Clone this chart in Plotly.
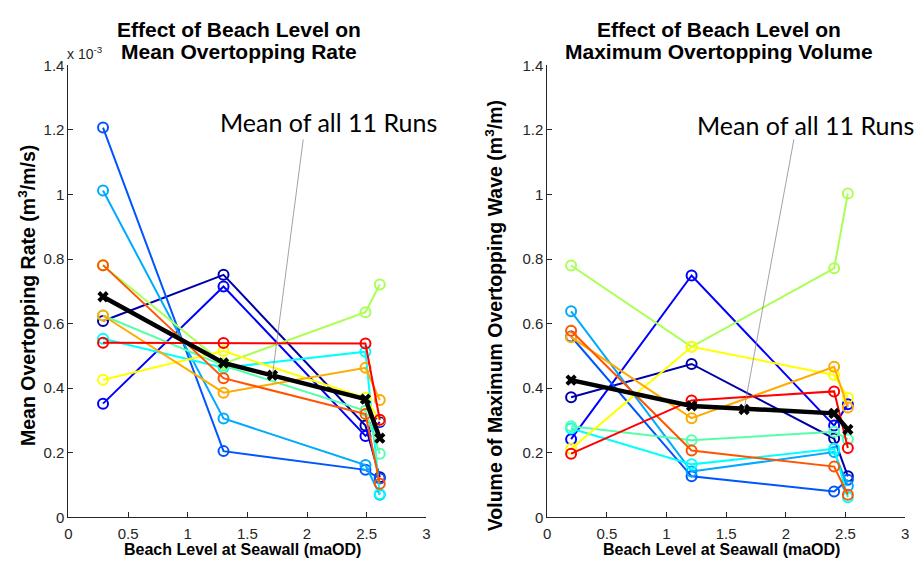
import plotly.graph_objects as go

# ---------------- data ----------------
run_names = ["Run 1", "Run 2", "Run 3", "Run 4", "Run 5", "Run 6",
             "Run 7", "Run 8", "Run 9", "Run 10", "Run 11"]
run_colors = ["#0000aa", "#0000ff", "#0055ff", "#00aaff", "#00ffff", "#55ffaa",
              "#aaff55", "#ffff00", "#ffaa00", "#ff5500", "#ff0000"]

# Left panel: beach level (maOD) and mean overtopping rate (x 1e-3 m3/m/s)
x_rate = [0.29, 1.30, 2.49, 2.61]
rate_runs = [
    [0.608, 0.751, 0.284, 0.124],
    [0.352, 0.715, 0.252, 0.295],
    [1.207, 0.205, 0.147, 0.120],
    [1.012, 0.306, 0.162, 0.070],
    [0.553, 0.463, 0.513, 0.072],
    [0.625, 0.470, 0.330, 0.197],
    [0.780, 0.476, 0.635, 0.721],
    [0.426, 0.515, 0.370, 0.300],
    [0.625, 0.386, 0.463, 0.363],
    [0.781, 0.431, 0.320, 0.104],
    [0.541, 0.540, 0.538, 0.302],
]
rate_mean = [0.683, 0.478, 0.366, 0.245]
rate_pointer_x = [1.71]
rate_pointer_y = [0.440]
rate_label_from = [1.97, 1.175]

# Right panel: beach level (maOD) and max overtopping volume (m3/m)
x_vol = [0.20, 1.21, 2.405, 2.52]
vol_runs = [
    [0.372, 0.475, 0.244, 0.127],
    [0.242, 0.749, 0.284, 0.350],
    [0.560, 0.127, 0.080, 0.116],
    [0.638, 0.142, 0.202, 0.097],
    [0.275, 0.164, 0.212, 0.062],
    [0.282, 0.239, 0.265, 0.242],
    [0.780, 0.528, 0.771, 1.003],
    [0.212, 0.528, 0.441, 0.370],
    [0.558, 0.307, 0.466, 0.340],
    [0.578, 0.207, 0.157, 0.070],
    [0.197, 0.362, 0.390, 0.215],
]
vol_mean = [0.425, 0.345, 0.322, 0.272]
vol_pointer_x = [1.65]
vol_pointer_y = [0.334]
vol_label_from = [2.07, 1.175]

x_ticks = [0, 0.5, 1, 1.5, 2, 2.5, 3]
x_ticktext = ["0", "0.5", "1", "1.5", "2", "2.5", "3"]
y_ticks = [0, 0.2, 0.4, 0.6, 0.8, 1.0, 1.2, 1.4]
y_ticktext = ["0", "0.2", "0.4", "0.6", "0.8", "1", "1.2", "1.4"]

# ---------------- figure ----------------
fig = go.Figure()

def add_panel(xs, runs, mean, px, py, xa, ya):
    for name, col, ys in zip(run_names, run_colors, runs):
        fig.add_trace(go.Scatter(
            x=xs, y=ys, mode="lines+markers", name=name,
            line=dict(color=col, width=2),
            marker=dict(symbol="circle-open", size=10, color=col,
                        line=dict(color=col, width=2)),
            xaxis=xa, yaxis=ya, showlegend=False))
    fig.add_trace(go.Scatter(
        x=xs, y=mean, mode="lines+markers", name="Mean",
        line=dict(color="black", width=4.5),
        marker=dict(symbol="x", size=10, color="black"),
        xaxis=xa, yaxis=ya, showlegend=False))
    fig.add_trace(go.Scatter(
        x=px, y=py, mode="markers", name="pointer",
        marker=dict(symbol="x", size=10, color="black"),
        xaxis=xa, yaxis=ya, showlegend=False))

add_panel(x_rate, rate_runs, rate_mean, rate_pointer_x, rate_pointer_y, "x", "y")
add_panel(x_vol, vol_runs, vol_mean, vol_pointer_x, vol_pointer_y, "x2", "y2")

W, H = 922, 568
y_dom = [1 - 524 / H, 1 - 58 / H]
FONT = "Liberation Sans, Arial, sans-serif"
axis_common = dict(
    showgrid=False, zeroline=False, showline=True, linecolor="#262626",
    linewidth=1, ticks="inside", ticklen=5, tickcolor="#262626",
    tickfont=dict(family=FONT, size=15, color="#262626"),
    mirror=False,
)
x_extra = dict(ticklabelstandoff=3)
fig.update_layout(
    width=W, height=H,
    margin=dict(l=0, r=0, t=0, b=0),
    paper_bgcolor="white", plot_bgcolor="white",
    xaxis=dict(domain=[65 / W, 426 / W], range=[0, 3], tickvals=x_ticks,
               ticktext=x_ticktext, anchor="y", **axis_common, **x_extra),
    yaxis=dict(domain=y_dom, range=[0, 1.4], tickvals=y_ticks,
               ticktext=y_ticktext, anchor="x", **axis_common),
    xaxis2=dict(domain=[548 / W, 909 / W], range=[0, 3], tickvals=x_ticks,
                ticktext=x_ticktext, anchor="y2", **axis_common, **x_extra),
    yaxis2=dict(domain=y_dom, range=[0, 1.4], tickvals=y_ticks,
                ticktext=y_ticktext, anchor="x2", **axis_common),
)

title_font = dict(family=FONT, size=21, color="black")
ylab_font = dict(family=FONT, size=19.5, color="black")
xlab_font = dict(family=FONT, size=16, color="black")
ann = []
# Titles (two lines each)
for cx, lines in ((237, ["Effect of Beach Level on", "Mean Overtopping Rate"]),
                  (721, ["Effect of Beach Level on", "Maximum Overtopping Volume"])):
    for cy, t in zip((21, 44), lines):
        ann.append(dict(text="<b>" + t + "</b>", x=cx / W, y=1 - cy / H,
                        xref="paper", yref="paper", showarrow=False, font=title_font,
                        xanchor="center", yanchor="middle"))
# x-axis titles
for cx in (241, 724):
    ann.append(dict(text="<b>Beach Level at Seawall (maOD)</b>",
                    x=cx / W, y=0, xref="paper", yref="paper",
                    showarrow=False, font=xlab_font, xanchor="center", yanchor="bottom"))
# y-axis titles
ann.append(dict(text="<b>Mean Overtopping Rate (m<sup>3</sup>/m/s)</b>",
                x=23 / W, y=1 - 295 / H, xref="paper", yref="paper", textangle=-90,
                showarrow=False, font=ylab_font, xanchor="center", yanchor="middle"))
ann.append(dict(text="<b>Volume of Maximum Overtopping Wave (m<sup>3</sup>/m)</b>",
                x=494 / W, y=1 - 316 / H, xref="paper", yref="paper", textangle=-90,
                showarrow=False, font=ylab_font, xanchor="center", yanchor="middle"))
# exponent label
ann.append(dict(text="x 10<sup>-3</sup>", x=62 / W, y=1 - 45 / H, xref="paper", yref="paper",
                showarrow=False, xanchor="left", yanchor="middle",
                font=dict(family=FONT, size=14, color="#262626")))
# Mean labels + pointer lines
mean_font = dict(family="Lato, Open Sans", size=25, color="black")
ann.append(dict(text="Mean of all 11 Runs", x=327 / W, y=1 - 117 / H,
                xref="paper", yref="paper", showarrow=False, font=mean_font,
                xanchor="center", yanchor="middle"))
ann.append(dict(text="Mean of all 11 Runs", x=809 / W, y=1 - 120 / H,
                xref="paper", yref="paper", showarrow=False, font=mean_font,
                xanchor="center", yanchor="middle"))
ann.append(dict(text="", x=rate_pointer_x[0], y=rate_pointer_y[0], xref="x", yref="y",
                ax=rate_label_from[0], ay=rate_label_from[1], axref="x", ayref="y",
                showarrow=True, arrowhead=0, arrowwidth=0.8, arrowcolor="#8c8c8c",
                standoff=0, startstandoff=0))
ann.append(dict(text="", x=vol_pointer_x[0], y=vol_pointer_y[0], xref="x2", yref="y2",
                ax=vol_label_from[0], ay=vol_label_from[1], axref="x2", ayref="y2",
                showarrow=True, arrowhead=0, arrowwidth=0.8, arrowcolor="#8c8c8c",
                standoff=0, startstandoff=0))
fig.update_layout(annotations=ann)

fig.write_html("out.html")
